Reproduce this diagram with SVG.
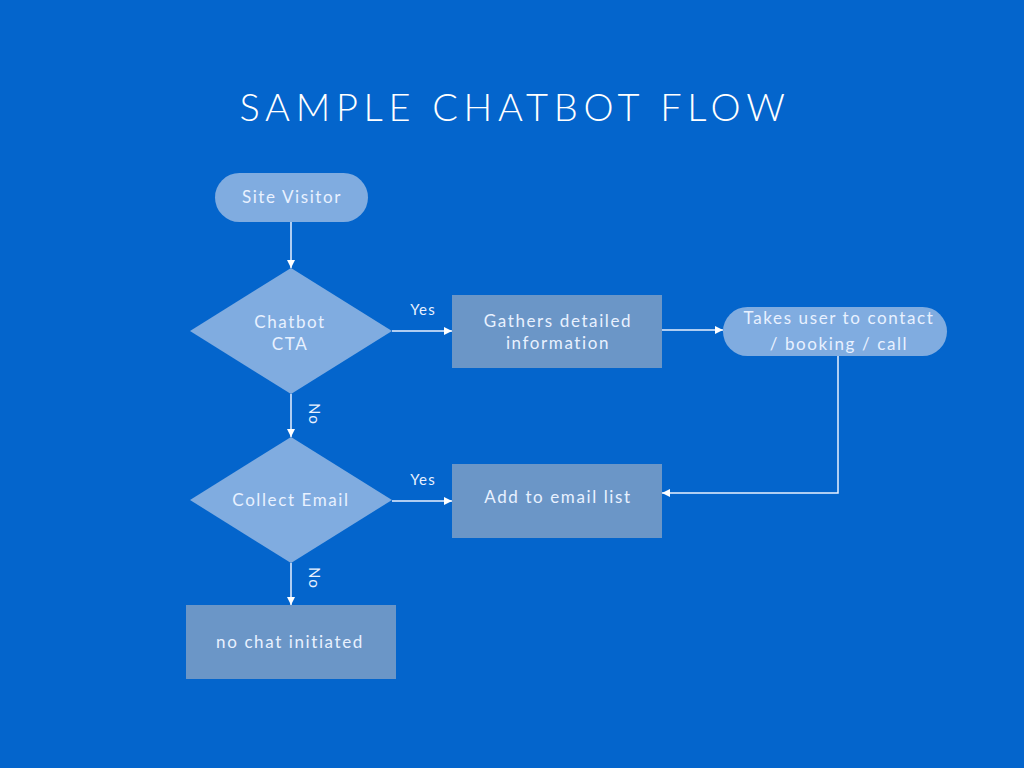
<svg xmlns="http://www.w3.org/2000/svg" width="1024" height="768" viewBox="0 0 1024 768">
<defs>
<style>
.t{font-family:Lato,"Open Sans","Liberation Sans",sans-serif;fill:#e8f1ff;font-size:17px;text-anchor:middle;letter-spacing:1.6px}
.lbl{font-family:Lato,"Open Sans","Liberation Sans",sans-serif;fill:#e8f1ff;font-size:15px;text-anchor:middle;letter-spacing:1.2px}
.title{font-family:Lato,"Open Sans","Liberation Sans",sans-serif;font-weight:300;fill:#ffffff;font-size:38px;text-anchor:middle;letter-spacing:5.7px}
.light{fill:#80ace0}
.box{fill:#6b96c7}
.c{stroke:#e8f1ff;stroke-width:1.5;fill:none}
</style>
<marker id="ah" viewBox="0 0 10 10" refX="10" refY="5" markerWidth="8" markerHeight="8" markerUnits="userSpaceOnUse" orient="auto">
<path d="M0,0 L10,5 L0,10 z" fill="#ffffff"/>
</marker>
</defs>
<rect width="1024" height="768" fill="#0465cc"/>
<text class="title" x="515" y="121">SAMPLE CHATBOT FLOW</text>
<g id="connectors">
<line class="c" x1="291" y1="222" x2="291" y2="268" marker-end="url(#ah)"/>
<line class="c" x1="392" y1="331" x2="452" y2="331" marker-end="url(#ah)"/>
<line class="c" x1="662" y1="330" x2="723" y2="330" marker-end="url(#ah)"/>
<polyline class="c" points="838,356 838,493 662,493" marker-end="url(#ah)"/>
<line class="c" x1="291" y1="394" x2="291" y2="437" marker-end="url(#ah)"/>
<line class="c" x1="392" y1="501" x2="452" y2="501" marker-end="url(#ah)"/>
<line class="c" x1="291" y1="563" x2="291" y2="605" marker-end="url(#ah)"/>
<text class="lbl" x="423" y="315">Yes</text>
<text class="lbl" x="423" y="485">Yes</text>
<text class="lbl" transform="translate(309,414) rotate(90)">No</text>
<text class="lbl" transform="translate(309,578) rotate(90)">No</text>
</g>
<g id="site-visitor">
<rect class="light" x="215" y="173" width="153" height="49" rx="24.5"/>
<text class="t" x="292" y="203">Site Visitor</text>
</g>
<g id="chatbot-cta">
<polygon class="light" points="291,268 392,331 291,394 190,331"/>
<text class="t" x="290" y="328">Chatbot</text>
<text class="t" x="290" y="350">CTA</text>
</g>
<g id="gathers">
<rect class="box" x="452" y="295" width="210" height="73"/>
<text class="t" x="558" y="327">Gathers detailed</text>
<text class="t" x="558" y="349">information</text>
</g>
<g id="takes-user">
<rect class="light" x="723" y="307" width="224" height="49" rx="24.5"/>
<text class="t" x="839" y="324">Takes user to contact</text>
<text class="t" x="839" y="350">/ booking / call</text>
</g>
<g id="collect-email">
<polygon class="light" points="291,437 392,500 291,563 190,500"/>
<text class="t" x="291" y="506">Collect Email</text>
</g>
<g id="add-email">
<rect class="box" x="452" y="464" width="210" height="74"/>
<text class="t" x="558" y="503">Add to email list</text>
</g>
<g id="no-chat">
<rect class="box" x="186" y="605" width="210" height="74"/>
<text class="t" x="290" y="648">no chat initiated</text>
</g>
</svg>
